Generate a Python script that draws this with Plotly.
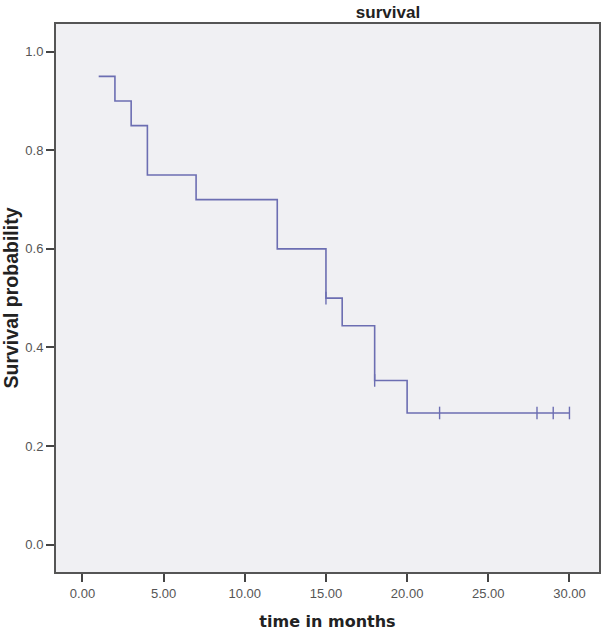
import plotly.graph_objects as go

# Kaplan-Meier step data
step_times = [1, 2, 3, 4, 7, 12, 15, 16, 18, 20, 30]
step_surv = [0.95, 0.90, 0.85, 0.75, 0.70, 0.60, 0.50, 0.444, 0.333, 0.267, 0.267]

# Censored observations
cens_times = [15, 18, 22, 28, 29, 30]
cens_surv = [0.50, 0.333, 0.267, 0.267, 0.267, 0.267]

x_ticks = [0, 5, 10, 15, 20, 25, 30]
x_labels = ["0.00", "5.00", "10.00", "15.00", "20.00", "25.00", "30.00"]
y_ticks = [0.0, 0.2, 0.4, 0.6, 0.8, 1.0]
y_labels = ["0.0", "0.2", "0.4", "0.6", "0.8", "1.0"]

line_color = "#6C6EB2"

fig = go.Figure()
fig.add_trace(go.Scatter(
    x=step_times, y=step_surv, mode="lines", line_shape="hv",
    line=dict(color=line_color, width=1.6), hoverinfo="skip", showlegend=False))
fig.add_trace(go.Scatter(
    x=cens_times, y=cens_surv, mode="markers",
    marker=dict(symbol="line-ns-open", size=9, color=line_color,
                line=dict(color=line_color, width=1.4)),
    showlegend=False))

fig.update_layout(
    width=604, height=631,
    margin=dict(l=56, r=5, t=24, b=59, autoexpand=False),
    paper_bgcolor="white",
    plot_bgcolor="#F0F0F3",
    font=dict(family="Liberation Sans, Arial, sans-serif"),
    title=dict(text="<b>survival</b>", x=388 / 604, xanchor="center", y=1 - 12.5 / 631, yanchor="middle",
               font=dict(size=17, color="#222"), automargin=False),
)
fig.update_xaxes(
    range=[-1.63, 31.82], tickvals=x_ticks, ticktext=x_labels, automargin=False,
    showgrid=False, zeroline=False, showline=True, mirror=True,
    linecolor="#555", linewidth=2, ticks="outside", ticklen=8, tickcolor="#444", tickwidth=1.5,
    tickfont=dict(size=13, color="#555"),
    title=dict(text="<b>time in months</b>", font=dict(size=16, color="#222",
               family="DejaVu Sans, Verdana, sans-serif"), standoff=16),
)
fig.update_yaxes(
    range=[-0.0557, 1.0563], tickvals=y_ticks, ticktext=y_labels, automargin=False,
    showgrid=False, zeroline=False, showline=True, mirror=True,
    linecolor="#555", linewidth=2, ticks="outside", ticklen=8, tickcolor="#444", tickwidth=1.5,
    tickfont=dict(size=13, color="#555"),
    title=dict(text="<b>Survival probability</b>", font=dict(size=19.5, color="#222"), standoff=4),
)

fig.write_html("out.html", config={"displayModeBar": False},
               post_script="document.body.style.margin='0px';")
